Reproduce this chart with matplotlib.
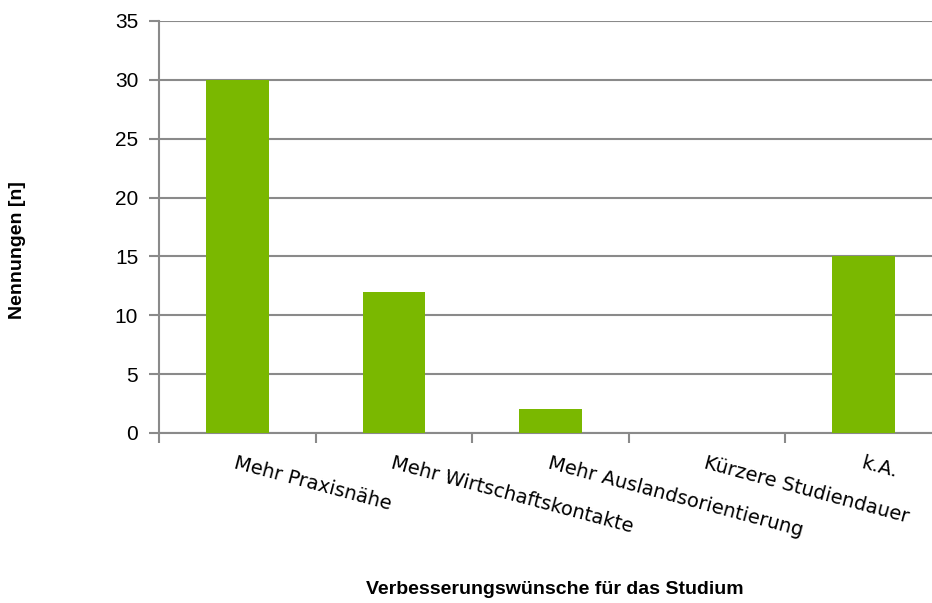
import matplotlib
matplotlib.use("Agg")
import matplotlib.pyplot as plt

categories = ["Mehr Praxisnähe", "Mehr Wirtschaftskontakte", "Mehr Auslandsorientierung",
              "Kürzere Studiendauer", "k.A."]
values = [30, 12, 2, 0, 15]
yticks = [0, 5, 10, 15, 20, 25, 30, 35]

plt.rcParams['font.family'] = ['Liberation Sans', 'DejaVu Sans']

W, H = 932, 603
fig = plt.figure(figsize=(W / 100, H / 100), dpi=100)
left, right, top, bottom = 159, 942, 21, 433
ax = fig.add_axes([left / W, 1 - bottom / H, (right - left) / W, (bottom - top) / H])

x = list(range(len(categories)))
ax.bar(x, values, width=0.4, color='#7ab800', zorder=3)

ax.set_xlim(-0.5, len(categories) - 0.5)
ax.set_ylim(0, 35)
ax.set_yticks(yticks)
ax.set_yticklabels([str(v) for v in yticks], fontsize=15)
ax.yaxis.grid(True, color='#8a8a8a', linewidth=1.5, zorder=0)

ax.set_xticks([i - 0.5 for i in range(len(categories) + 1)])
ax.set_xticklabels([])
ax.set_xticks(x, minor=True)
ax.set_xticklabels(categories, minor=True, rotation=-15, ha='left', va='top',
                   rotation_mode='anchor', fontsize=14, family='DejaVu Sans')
ax.tick_params(axis='x', which='minor', length=0, pad=15)
ax.tick_params(axis='x', which='major', length=7, width=1.5, color='#8a8a8a')
ax.tick_params(axis='y', length=7, width=1.5, color='#8a8a8a', pad=8)

for side in ['top', 'right']:
    ax.spines[side].set_visible(False)
for side in ['left', 'bottom']:
    ax.spines[side].set_color('#8a8a8a')
    ax.spines[side].set_linewidth(1.5)

fig.text(18 / W, 1 - 250 / H, "Nennungen [n]", rotation=90, ha='center', va='center',
         fontsize=14, fontweight='bold')
fig.text(555 / W, 1 - 589 / H, "Verbesserungswünsche für das Studium", ha='center',
         va='center', fontsize=14, fontweight='bold')

fig.savefig("out.png", dpi=100)
